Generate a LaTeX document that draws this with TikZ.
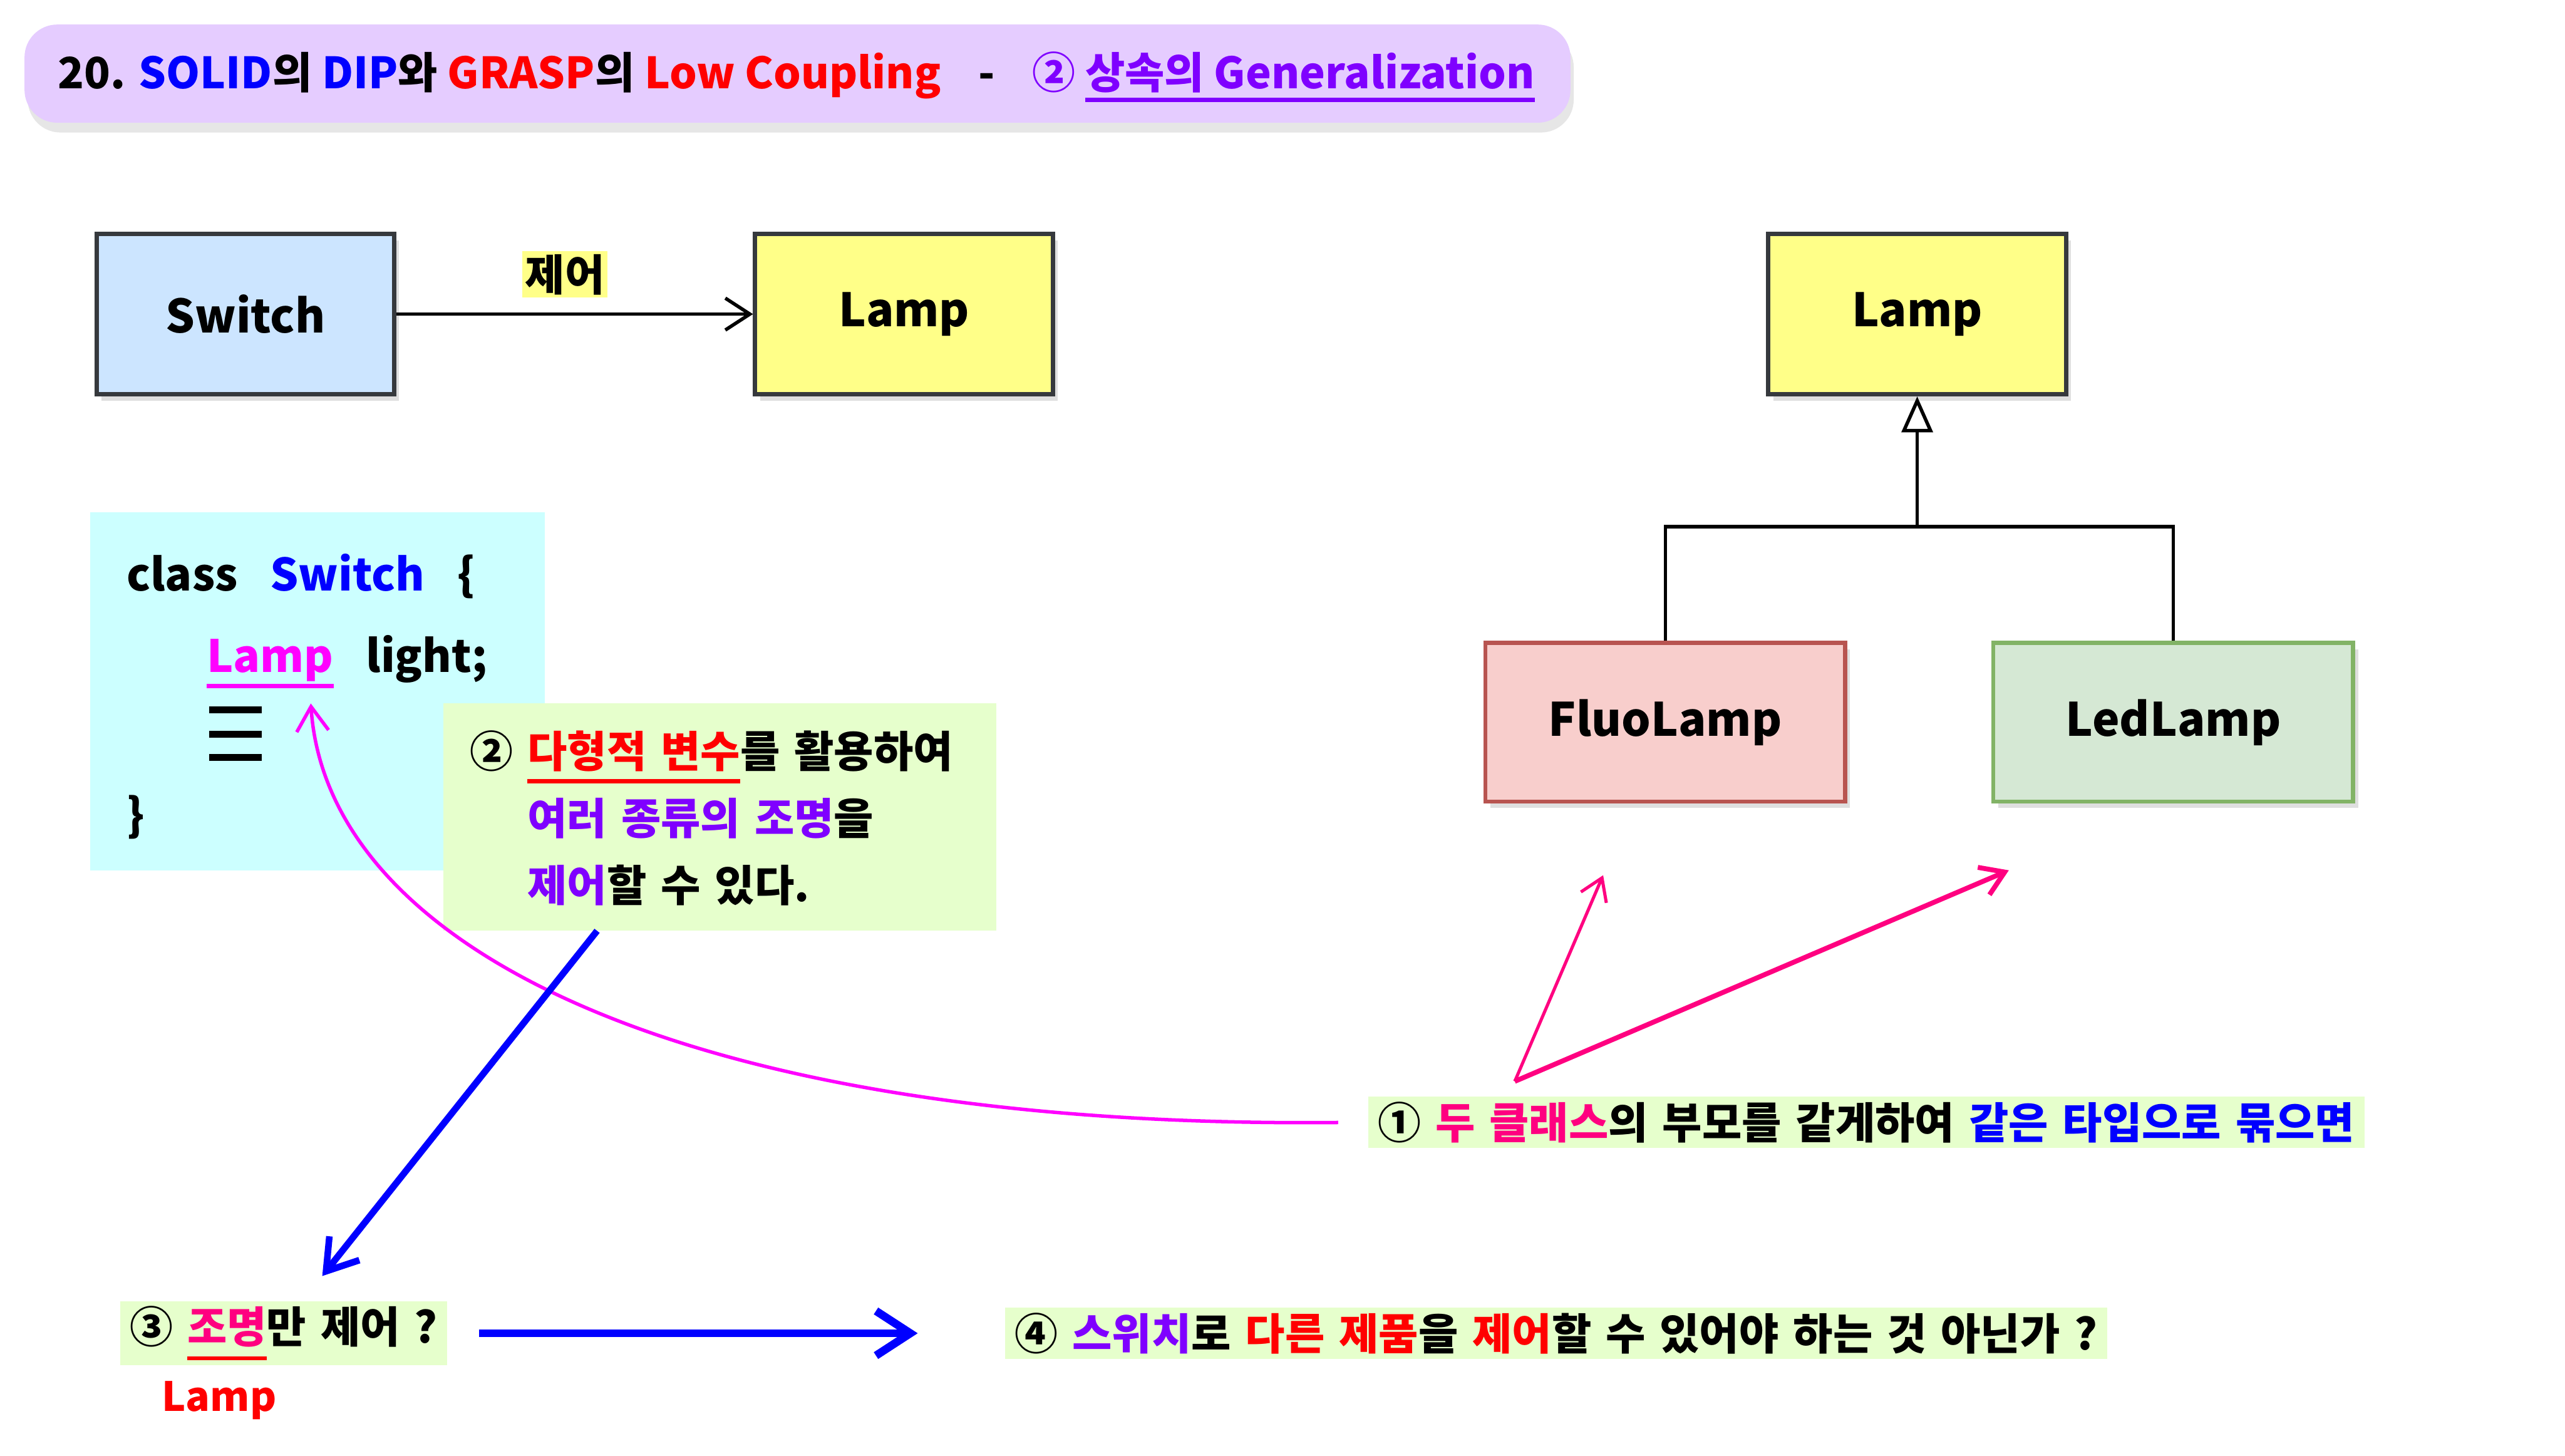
\documentclass[tikz,border=0pt]{standalone}
\usepackage{fontspec}
\setmainfont{Noto Sans CJK KR}
\usepackage{tikz}
\usetikzlibrary{arrows.meta, positioning, shadows}

\definecolor{titlebg}{HTML}{E5CCFF}
\definecolor{cBlue}{HTML}{0000FF}
\definecolor{cRed}{HTML}{FF0000}
\definecolor{cPurple}{HTML}{7F00FF}
\definecolor{cPink}{HTML}{FF0080}
\definecolor{cMagenta}{HTML}{FF00FF}
\definecolor{boxline}{HTML}{36393D}
\definecolor{switchfill}{HTML}{CCE5FF}
\definecolor{lampfill}{HTML}{FFFF88}
\definecolor{fluofill}{HTML}{F8CECC}
\definecolor{fluoline}{HTML}{B85450}
\definecolor{ledfill}{HTML}{D5E8D4}
\definecolor{ledline}{HTML}{82B366}
\definecolor{codebg}{HTML}{CCFFFF}
\definecolor{notebg}{HTML}{E6FFCC}

\newsavebox\ulbox
\newcommand{\undermark}[3][5.5pt]{\sbox\ulbox{#3}\rlap{\color{#2}\rule[-#1]{\wd\ulbox}{1.4pt}}\usebox\ulbox}
\newcommand{\notefont}{\bfseries\fontsize{15}{23.3}\selectfont\spaceskip=5pt plus 1pt}

\begin{document}
\begin{tikzpicture}[x=0.2mm, y=-0.2mm,
    classbox/.style={draw=boxline, line width=1.5pt, minimum width=36.4mm, minimum height=19.6mm,
        font=\bfseries\fontsize{16}{19}\selectfont,
        drop shadow={shadow xshift=0.6mm, shadow yshift=-0.8mm, opacity=0.25}},
    subbox/.style={line width=1.4pt, minimum width=44mm, minimum height=19.4mm,
        font=\bfseries\fontsize{16}{19}\selectfont,
        drop shadow={shadow xshift=0.6mm, shadow yshift=-0.8mm, opacity=0.25}},
    codetext/.style={inner sep=0pt, font=\bfseries\fontsize{15.5}{18}\selectfont},
    labelbox/.style={fill=notebg, inner xsep=1.2mm, inner ysep=0.6mm, font=\notefont},
    genline/.style={line width=1.2pt},
    tip/.style={-{Straight Barb[length=#1, width=#1*1.3]}},
]
\useasboundingbox (0,0) rectangle (1568,890);

% 제목
\node[fill=titlebg, rounded corners=4mm, minimum width=189mm, minimum height=12mm,
    drop shadow={shadow xshift=0.4mm, shadow yshift=-1.2mm, opacity=0.2}] (titlebar) at (487.5,45) {};
\node[anchor=west, inner sep=0pt, font=\bfseries\fontsize{15}{18}\selectfont] (title) at (35,47)
    {20. {\color{cBlue}SOLID}의 {\color{cBlue}DIP}와 {\color{cRed}GRASP}의 {\color{cRed}Low Coupling}\hspace{13pt}-\hspace{13pt}%
     {\color{cPurple}② \undermark[4.5pt]{cPurple}{상속의 Generalization}}};

% 클래스
\node[classbox, fill=switchfill] (switch) at (150,192) {Switch};
\node[classbox, fill=lampfill, right=43.6mm of switch] (lamp) {Lamp};
\node[classbox, fill=lampfill] (parent) at (1172,192) {Lamp};
\node[subbox, draw=fluoline, fill=fluofill] (fluo) at (1018,441.5) {FluoLamp};
\node[subbox, draw=ledline, fill=ledfill, right=17.6mm of fluo] (led) {LedLamp};
\coordinate (joint) at (1172,322);

\draw[line width=1.2pt, tip=3mm] (switch) -- node[above=1.8mm, xshift=-1.2mm, fill=lampfill, inner sep=1pt, font=\notefont] (ctrltag) {제어} (lamp);
\draw[genline] (fluo.north) |- (joint) -| (led.north);
\draw[genline, -{Triangle[open, fill=white, length=4.4mm, width=3.8mm]}] (joint) -- (parent.south);

% 코드
\node[fill=codebg, minimum width=55.6mm, minimum height=43.8mm] (code) at (194,422.5) {};
\node[codetext, anchor=base west] (codeA) at (77,361) {class\enspace\ {\color{cBlue}Switch}\enspace\ \{};
\node[codetext, anchor=base west] (codeB) at (126,411) {\undermark{cMagenta}{\color{cMagenta}Lamp}\enspace\ light;};
\foreach \y in {434,449,463} \draw[line width=2.4pt] (128,\y) -- (160,\y);
\node[codetext, anchor=base west] (codeC) at (77,508) {\}};

\node[fill=notebg, minimum width=67.6mm, minimum height=27.8mm] (note) at (440,499.5) {};
\node[anchor=west, align=left, inner sep=0pt, font=\notefont] (notetxt) at (287,500)
    {② \undermark{cRed}{\color{cRed}다형적 변수}를 활용하여\\
     \hphantom{②}\ {\color{cPurple}여러 종류의 조명}을\\
     \hphantom{②}\ {\color{cPurple}제어}할 수 있다.};

% 설명
\node[labelbox, anchor=west] (one) at (836,686)
    {① {\color{cPink}두 클래스}의 부모를 같게하여 {\color{cBlue}같은 타입으로 묶으면}};
\node[labelbox, anchor=west] (three) at (73,815)
    {③ \undermark[6pt]{cRed}{\color{cPink}조명}만 제어 ?};
\node[inner sep=0pt, text=cRed, font=\bfseries\fontsize{14}{17}\selectfont] (lampnote) at (134,856) {Lamp};
\node[labelbox, anchor=west] (four) at (614,815)
    {④ {\color{cPurple}스위치}로 {\color{cRed}다른 제품}을 {\color{cRed}제어}할 수 있어야 하는 것 아닌가 ?};

\coordinate (lampmark) at (190,430);
\coordinate (ctrlstart) at (365,569);
\coordinate (ctrlend) at (197,780);
\coordinate (fork) at (926,661);
\coordinate (tofluo) at (980,535);
\coordinate (toled) at (1228,532);

% 화살표
\draw[cMagenta, line width=1.2pt, tip=3mm, shorten <=3.6mm] (one.west) .. controls (420,690) and (200,580) .. (lampmark);
\draw[cBlue, line width=2.3pt, tip=3.6mm] (ctrlstart) -- (ctrlend);
\draw[cPink, line width=1.1pt, tip=2.6mm] (fork) -- (tofluo);
\draw[cPink, line width=1.7pt, tip=2.8mm] (fork) -- (toled);
\draw[cBlue, line width=2.8pt, tip=4.2mm, shorten <=3.8mm, shorten >=10.6mm] (three) -- (four);
\end{tikzpicture}
\end{document}
